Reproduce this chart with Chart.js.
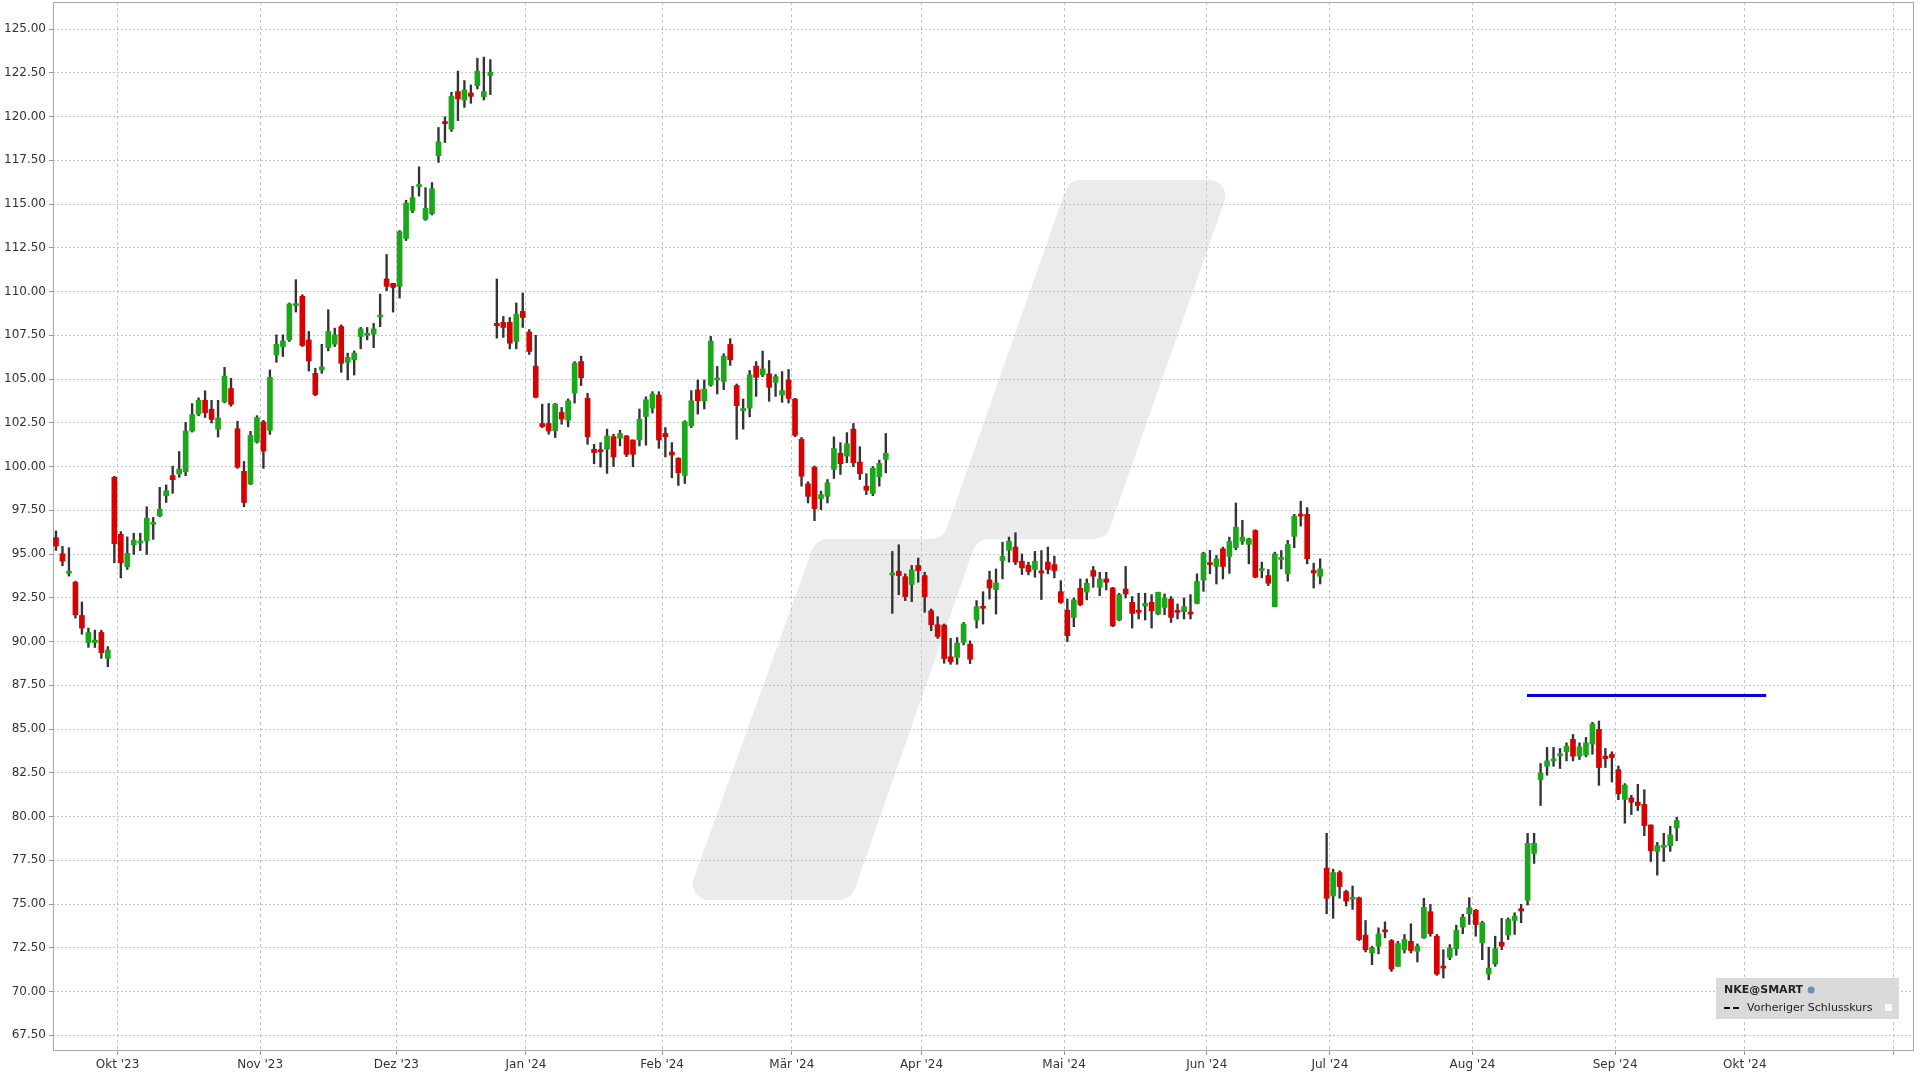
<!DOCTYPE html>
<html>
<head>
<meta charset="utf-8">
<title>NKE@SMART</title>
<script src="https://cdn.jsdelivr.net/npm/chart.js@4.4.1/dist/chart.umd.min.js"></script>
<style>
  html, body { margin: 0; padding: 0; background: #fff; }
  #wrap { width: 1920px; height: 1080px; position: relative; }
</style>
</head>
<body>
<div id="wrap"><canvas id="chart"></canvas></div>
<script>
/* ============================
   DATA  (daily candles, index 0 = 18 Sep 2023, one step per trading day)
   ============================ */
const opens = [
  95.94, 95.02, 93.90, 93.39, 91.49, 89.94, 89.94, 90.52, 89.04, 99.39,
  96.13, 94.27, 95.52, 95.63, 95.75, 96.70, 97.18, 98.33, 99.48, 99.58, 99.71, 102.03, 103.00, 103.79, 103.28, 102.13, 103.70, 104.46, 102.16, 99.73, 99.00, 101.40,
  102.55, 102.07, 106.38, 106.86, 107.24, 109.20, 109.73, 107.24, 105.33, 105.52, 106.80, 106.99, 108.00, 105.96, 106.10, 107.43, 107.50, 107.57, 108.55, 110.72, 110.47,
  110.30, 113.04, 114.64, 116.00, 114.13, 114.45, 117.76, 119.70, 119.29, 121.43, 120.95, 121.35, 121.77, 121.14, 122.35, 108.18, 108.24, 108.24, 107.15, 108.87,
  107.69, 105.74, 102.46, 102.46, 102.04, 103.09, 102.65, 104.20, 106.00, 103.90, 100.99, 100.95, 100.99, 101.71, 101.62, 101.75, 101.52, 101.52, 102.86, 103.34, 104.09,
  101.89, 100.83, 100.47, 99.49, 102.33, 104.38, 103.76, 104.66, 104.95, 104.86, 106.98, 104.63, 103.20, 103.34, 105.74, 105.24, 105.30, 104.82, 104.09, 104.95,
  103.86, 101.56, 99.01, 99.97, 98.16, 98.30, 99.84, 100.76, 100.60, 102.14, 100.26, 98.88, 98.46, 99.42, 100.41, 93.80, 94.02, 93.71, 93.26, 94.35,
  93.77, 91.76, 90.96, 90.94, 89.13, 89.09, 89.95, 89.85, 91.23, 91.99, 93.52, 92.97, 94.63, 95.21, 95.40, 94.59, 94.35, 94.12, 94.00, 94.54, 94.40, 92.85,
  91.80, 91.38, 93.04, 92.82, 94.06, 93.10, 93.58, 93.06, 91.23, 93.00, 92.24, 91.76, 92.03, 92.24, 91.57, 91.95, 92.43, 91.76, 91.71, 91.67, 92.18, 93.52,
  94.48, 94.29, 95.30, 94.86, 95.36, 95.74, 95.55, 96.35, 94.06, 93.77, 91.99, 94.69, 93.87, 96.01, 97.27, 97.27, 94.06, 93.73, 77.05,
  75.46, 76.80, 75.71, 75.27, 75.36, 73.22, 72.20, 72.59, 73.49, 72.91, 71.44, 72.39, 72.87, 72.30, 73.07, 74.56, 73.16, 71.44, 71.95, 72.45, 73.68, 74.45,
  74.64, 72.78, 71.00, 71.57, 72.82, 73.22, 74.06, 74.73, 75.21, 77.89, 82.11, 82.87, 83.18, 83.47, 83.70, 84.41, 83.45, 83.51, 84.14, 84.98, 83.45, 83.56,
  82.68, 80.98, 81.07, 80.82, 80.69, 79.52, 78.01, 78.24, 78.33, 79.35
];
const highs = [
  96.32, 95.44, 95.36, 93.45, 92.26, 90.77, 90.65, 90.65, 89.71, 99.45,
  96.28, 95.98, 96.19, 96.19, 97.70, 97.09, 98.81, 98.95, 100.02, 100.86, 102.53, 103.60, 103.93, 104.33, 103.79, 103.79, 105.67, 105.04, 102.59, 100.29, 102.01, 102.91,
  102.64, 105.52, 107.53, 107.53, 109.35, 110.68, 109.82, 107.72, 105.62, 106.99, 108.96, 107.91, 108.10, 106.48, 106.61, 107.95, 107.95, 108.18, 109.86, 112.12, 110.47,
  113.49, 115.22, 116.02, 117.13, 115.94, 116.23, 119.38, 119.99, 121.39, 122.60, 122.06, 121.81, 123.34, 123.40, 123.26, 110.72, 108.58, 108.52, 109.35, 109.92,
  107.83, 107.50, 103.57, 103.61, 103.61, 103.38, 103.86, 106.00, 106.31, 104.19, 101.27, 101.37, 102.14, 101.85, 102.08, 101.79, 101.52, 103.29, 103.99, 104.28, 104.28,
  102.23, 101.37, 100.51, 102.62, 104.34, 104.95, 104.95, 107.44, 105.72, 106.45, 107.31, 104.72, 103.86, 105.49, 106.00, 106.60, 106.06, 105.26, 105.43, 105.55,
  103.90, 101.66, 99.13, 100.03, 98.60, 99.26, 101.70, 101.37, 101.94, 102.46, 101.14, 99.59, 100.00, 100.37, 101.89, 95.15, 95.53, 93.87, 94.35, 94.77,
  93.96, 91.86, 91.42, 91.00, 90.18, 90.23, 91.09, 90.04, 92.34, 92.85, 94.02, 94.15, 95.68, 95.97, 96.22, 95.01, 94.54, 95.15, 95.20, 95.40, 94.88, 93.48,
  92.43, 92.49, 93.58, 93.58, 94.29, 93.96, 93.96, 93.10, 92.76, 94.29, 92.57, 92.76, 92.76, 92.68, 92.82, 92.72, 92.57, 92.15, 92.49, 92.68, 93.87, 95.11,
  95.21, 94.92, 95.40, 95.97, 97.92, 96.93, 95.91, 96.39, 94.54, 94.12, 95.11, 95.20, 95.78, 97.27, 98.02, 97.65, 94.48, 94.73, 79.04,
  76.99, 76.90, 75.79, 76.03, 75.40, 74.06, 72.59, 73.64, 73.98, 72.97, 72.87, 73.26, 73.87, 72.72, 75.33, 74.98, 73.26, 72.39, 72.68, 73.79, 74.41, 75.36,
  74.69, 74.02, 72.53, 73.16, 74.18, 74.21, 74.50, 74.98, 79.04, 79.04, 83.03, 83.95, 83.95, 83.89, 84.21, 84.69, 84.21, 84.52, 85.38, 85.46, 83.89, 83.70,
  82.89, 81.88, 81.21, 81.84, 81.53, 79.52, 78.52, 79.04, 79.44, 79.96
];
const lows = [
  95.21, 94.33, 93.74, 91.34, 90.42, 89.67, 89.66, 89.04, 88.56, 94.50,
  93.64, 94.12, 94.98, 95.20, 94.98, 95.84, 97.13, 97.95, 98.47, 99.39, 99.48, 101.97, 102.90, 102.80, 102.49, 101.69, 103.64, 103.45, 99.90, 97.70, 98.97, 101.34,
  99.90, 101.84, 105.96, 106.29, 107.15, 108.83, 106.86, 105.46, 104.05, 105.33, 106.61, 106.86, 105.39, 104.95, 105.23, 106.73, 107.24, 106.80, 108.00, 110.05, 108.83,
  109.63, 112.92, 114.51, 115.46, 114.07, 114.38, 117.38, 118.52, 119.15, 119.77, 120.53, 120.76, 121.58, 120.95, 121.26, 107.34, 107.38, 106.73, 106.73, 107.95,
  106.41, 103.92, 102.23, 101.85, 101.66, 102.42, 102.27, 103.63, 104.63, 101.27, 100.16, 99.97, 99.61, 100.00, 101.18, 100.57, 99.99, 101.18, 101.22, 103.06, 101.04,
  100.55, 99.36, 98.92, 99.03, 102.23, 103.00, 103.29, 104.59, 104.15, 104.40, 105.78, 101.56, 102.14, 102.84, 104.01, 105.14, 103.73, 104.01, 103.67, 103.63,
  101.71, 98.88, 97.92, 96.91, 97.54, 97.92, 99.32, 99.55, 100.22, 99.99, 99.26, 98.40, 98.34, 98.88, 99.64, 91.61, 92.68, 92.34, 92.28, 93.39,
  91.67, 90.62, 90.18, 88.76, 88.70, 88.70, 89.81, 88.74, 90.77, 91.00, 92.43, 91.57, 93.58, 94.54, 94.40, 93.83, 93.81, 93.68, 92.40, 93.87, 93.64, 92.18,
  90.00, 90.85, 92.05, 92.38, 93.10, 92.62, 92.95, 90.85, 91.19, 92.49, 90.77, 91.29, 91.23, 90.77, 91.53, 91.53, 91.09, 91.29, 91.29, 91.29, 92.15, 92.87,
  93.87, 93.29, 93.58, 93.90, 95.24, 95.55, 94.44, 93.64, 93.64, 93.20, 91.99, 94.15, 93.45, 95.36, 96.60, 94.44, 93.06, 93.29, 74.44,
  74.18, 75.33, 74.89, 74.69, 72.91, 72.26, 71.53, 72.15, 73.07, 71.15, 71.44, 72.20, 72.20, 71.69, 73.03, 73.16, 70.92, 70.77, 71.82, 72.07, 73.30, 73.83,
  73.16, 71.82, 70.67, 71.44, 72.39, 72.97, 73.26, 73.93, 74.94, 77.32, 80.63, 82.36, 82.87, 82.74, 83.18, 83.18, 83.26, 83.41, 83.56, 81.78, 82.80, 81.97,
  80.96, 79.62, 80.11, 80.34, 78.91, 77.43, 76.65, 77.43, 78.01, 78.62
];
const closes = [
  95.46, 94.60, 94.00, 91.53, 90.77, 90.52, 90.08, 89.37, 89.52, 95.59,
  94.50, 95.04, 95.80, 95.72, 97.05, 96.80, 97.57, 98.62, 99.25, 99.86, 102.03, 102.97, 103.79, 103.08, 102.70, 102.78, 105.17, 103.56, 99.96, 97.95, 101.78, 102.80,
  100.88, 105.10, 106.99, 107.18, 109.29, 109.25, 106.92, 106.04, 104.12, 105.70, 107.72, 107.53, 105.90, 106.25, 106.48, 107.87, 107.60, 107.87, 108.65, 110.30, 110.24,
  113.42, 115.06, 115.37, 116.10, 114.76, 115.88, 118.56, 119.60, 121.16, 121.01, 121.52, 121.16, 122.60, 121.43, 122.54, 108.05, 107.95, 107.05, 108.71, 108.52,
  106.58, 103.96, 102.29, 102.04, 103.57, 102.71, 103.76, 105.91, 105.07, 101.71, 100.80, 100.85, 101.75, 100.55, 101.89, 100.70, 100.70, 102.71, 103.82, 104.15, 101.52,
  101.71, 100.66, 99.65, 102.56, 103.76, 103.76, 104.43, 107.17, 105.05, 106.31, 106.10, 103.48, 103.32, 105.24, 105.10, 105.58, 104.53, 105.14, 104.34, 103.90,
  101.79, 99.45, 98.30, 97.60, 98.40, 99.07, 101.03, 100.16, 101.31, 100.22, 99.59, 98.65, 99.90, 100.18, 100.76, 93.87, 93.77, 92.57, 94.10, 94.06,
  92.57, 90.96, 90.29, 89.03, 88.84, 89.91, 91.00, 88.99, 91.99, 91.90, 93.06, 93.35, 94.86, 95.74, 94.54, 94.21, 94.00, 94.59, 93.92, 94.12, 94.06, 92.24,
  90.33, 92.38, 92.11, 93.33, 93.73, 93.58, 93.39, 90.90, 92.68, 92.72, 91.61, 91.67, 92.18, 91.76, 92.82, 92.49, 91.38, 91.67, 91.99, 91.57, 93.43, 95.05,
  94.40, 94.73, 94.29, 95.72, 96.54, 95.97, 95.87, 93.68, 94.15, 93.33, 95.01, 94.78, 95.55, 97.17, 97.17, 94.73, 93.92, 94.15, 75.33,
  76.80, 76.00, 75.17, 75.36, 72.97, 72.39, 72.49, 73.29, 73.41, 71.28, 72.74, 72.97, 72.34, 72.59, 74.81, 73.31, 71.00, 71.34, 72.49, 73.49, 74.25, 74.79,
  73.83, 73.93, 71.34, 72.45, 72.59, 74.12, 74.31, 74.60, 78.47, 78.47, 82.48, 83.18, 83.26, 83.54, 84.02, 83.45, 83.98, 84.21, 85.29, 82.80, 83.31, 83.37,
  81.30, 81.80, 80.82, 80.63, 79.48, 78.05, 78.34, 78.34, 78.95, 79.77
];

// month gridlines sit half a step before the first trading day of each month
const monthTickPos = [9.5, 31.5, 52.5, 72.5, 93.5, 113.5, 133.5, 155.5, 177.5, 196.5, 218.5, 240.5, 260.5, 283.5];
const monthLabels = ["Okt '23", "Nov '23", "Dez '23", "Jan '24", "Feb '24", "Mär '24", "Apr '24", "Mai '24", "Jun '24", "Jul '24", "Aug '24", "Sep '24", "Okt '24", ""];
const priceTicks = [67.5, 70, 72.5, 75, 77.5, 80, 82.5, 85, 87.5, 90, 92.5, 95, 97.5, 100, 102.5, 105, 107.5, 110, 112.5, 115, 117.5, 120, 122.5, 125];

const prevClose = 86.92;
const prevCloseSpan = [226.9, 263.8];

/* ============================
   STYLE
   ============================ */
const UP = '#1aa81a';
const DOWN = '#d80000';
const WICK = '#333333';
const TICK_FONT = { family: 'DejaVu Sans', size: 12 };

const bodies = opens.map((o, i) => ({ x: i, y: [o, closes[i]] }));
const wicks = lows.map((l, i) => ({ x: i, y: [l, highs[i]] }));

// big grey logo behind the plot
const watermark = {
  id: 'watermark',
  beforeDraw(chart) {
    const ctx = chart.ctx;
    const pts = [[1069, 180], [1232, 180], [1106, 539], [977, 539], [851, 900], [686, 900], [816, 539], [943, 539]];
    const r = 16;
    const n = pts.length;
    ctx.save();
    ctx.fillStyle = '#ebebeb';
    ctx.beginPath();
    const last = pts[n - 1];
    ctx.moveTo((last[0] + pts[0][0]) / 2, (last[1] + pts[0][1]) / 2);
    for (let i = 0; i < n; i++) {
      const p = pts[i];
      const q = pts[(i + 1) % n];
      ctx.arcTo(p[0], p[1], q[0], q[1], r);
    }
    ctx.closePath();
    ctx.fill();
    ctx.restore();
  }
};

// thin frame round the plot area
const frame = {
  id: 'frame',
  beforeDatasetsDraw(chart) {
    const { ctx, chartArea: a } = chart;
    ctx.save();
    ctx.strokeStyle = '#a8a8a8';
    ctx.lineWidth = 1;
    ctx.strokeRect(a.left + 0.5, a.top + 0.5, a.width - 1, a.height - 1);
    ctx.restore();
  }
};

// quote box in the lower right corner
const quoteBox = {
  id: 'quoteBox',
  afterDraw(chart) {
    const { ctx, chartArea: a } = chart;
    const w = 183, h = 41;
    const x = a.right - 15 - w;
    const y = a.bottom - 32 - h;
    ctx.save();
    ctx.fillStyle = 'rgba(214,214,214,0.9)';
    ctx.fillRect(x, y, w, h);
    ctx.textBaseline = 'middle';
    ctx.fillStyle = '#222';
    ctx.font = 'bold 11px "DejaVu Sans"';
    ctx.fillText('NKE@SMART', x + 8, y + 12);
    const tw = ctx.measureText('NKE@SMART').width;
    ctx.beginPath();
    ctx.arc(x + 8 + tw + 8, y + 12, 3.5, 0, Math.PI * 2);
    ctx.fillStyle = '#6b8fb8';
    ctx.fill();
    ctx.fillStyle = '#222';
    ctx.font = '11px "DejaVu Sans"';
    ctx.fillText('Vorheriger Schlusskurs', x + 31, y + 30);
    ctx.strokeStyle = '#111';
    ctx.lineWidth = 2;
    ctx.setLineDash([6, 3]);
    ctx.beginPath();
    ctx.moveTo(x + 8, y + 30);
    ctx.lineTo(x + 26, y + 30);
    ctx.stroke();
    ctx.setLineDash([]);
    ctx.fillStyle = '#fafafa';
    ctx.fillRect(x + w - 14, y + 26, 7, 7);
    ctx.restore();
  }
};

new Chart(document.getElementById('chart'), {
  type: 'bar',
  data: {
    datasets: [
      {
        type: 'line',
        label: 'Vorheriger Schlusskurs',
        data: prevCloseSpan.map(x => ({ x, y: prevClose })),
        borderColor: '#0000dd',
        borderWidth: 3,
        pointRadius: 0,
        order: 0
      },
      {
        label: 'NKE@SMART',
        data: bodies,
        backgroundColor: ctx => closes[ctx.dataIndex] >= opens[ctx.dataIndex] ? UP : DOWN,
        barThickness: 5,
        minBarLength: 2,
        grouped: false,
        order: 1
      },
      {
        label: 'Spanne',
        data: wicks,
        backgroundColor: WICK,
        barThickness: 1.7,
        grouped: false,
        order: 2
      }
    ]
  },
  options: {
    responsive: true,
    maintainAspectRatio: false,
    animation: false,
    layout: { padding: { top: 2, right: 6, left: 0, bottom: 0 } },
    plugins: { legend: { display: false }, tooltip: { enabled: false } },
    scales: {
      x: {
        type: 'linear',
        min: -0.46,
        max: 286.6,
        bounds: 'data',
        offset: false,
        afterBuildTicks: s => { s.ticks = monthTickPos.map(v => ({ value: v })); },
        afterFit: s => { s.height = 29; s.paddingLeft = 0; s.paddingRight = 0; },
        ticks: {
          autoSkip: false, maxRotation: 0, padding: 3, color: '#333', font: TICK_FONT,
          callback: (v, i) => monthLabels[i]
        },
        grid: { offset: false, color: '#c4c4c4', tickLength: 4, tickColor: '#9a9a9a' },
        border: { display: false, dash: [3, 3] }
      },
      y: {
        type: 'linear',
        min: 66.60,
        max: 126.55,
        bounds: 'data',
        afterBuildTicks: s => { s.ticks = priceTicks.map(v => ({ value: v })); },
        afterFit: s => { s.width = 53; s.paddingTop = 0; s.paddingBottom = 0; },
        ticks: {
          padding: 3, color: '#333', font: TICK_FONT,
          callback: v => v.toFixed(2)
        },
        grid: { color: '#c4c4c4', tickLength: 4, tickColor: '#9a9a9a' },
        border: { display: false, dash: [2, 2] }
      }
    }
  },
  plugins: [watermark, frame, quoteBox]
});
</script>
</body>
</html>
